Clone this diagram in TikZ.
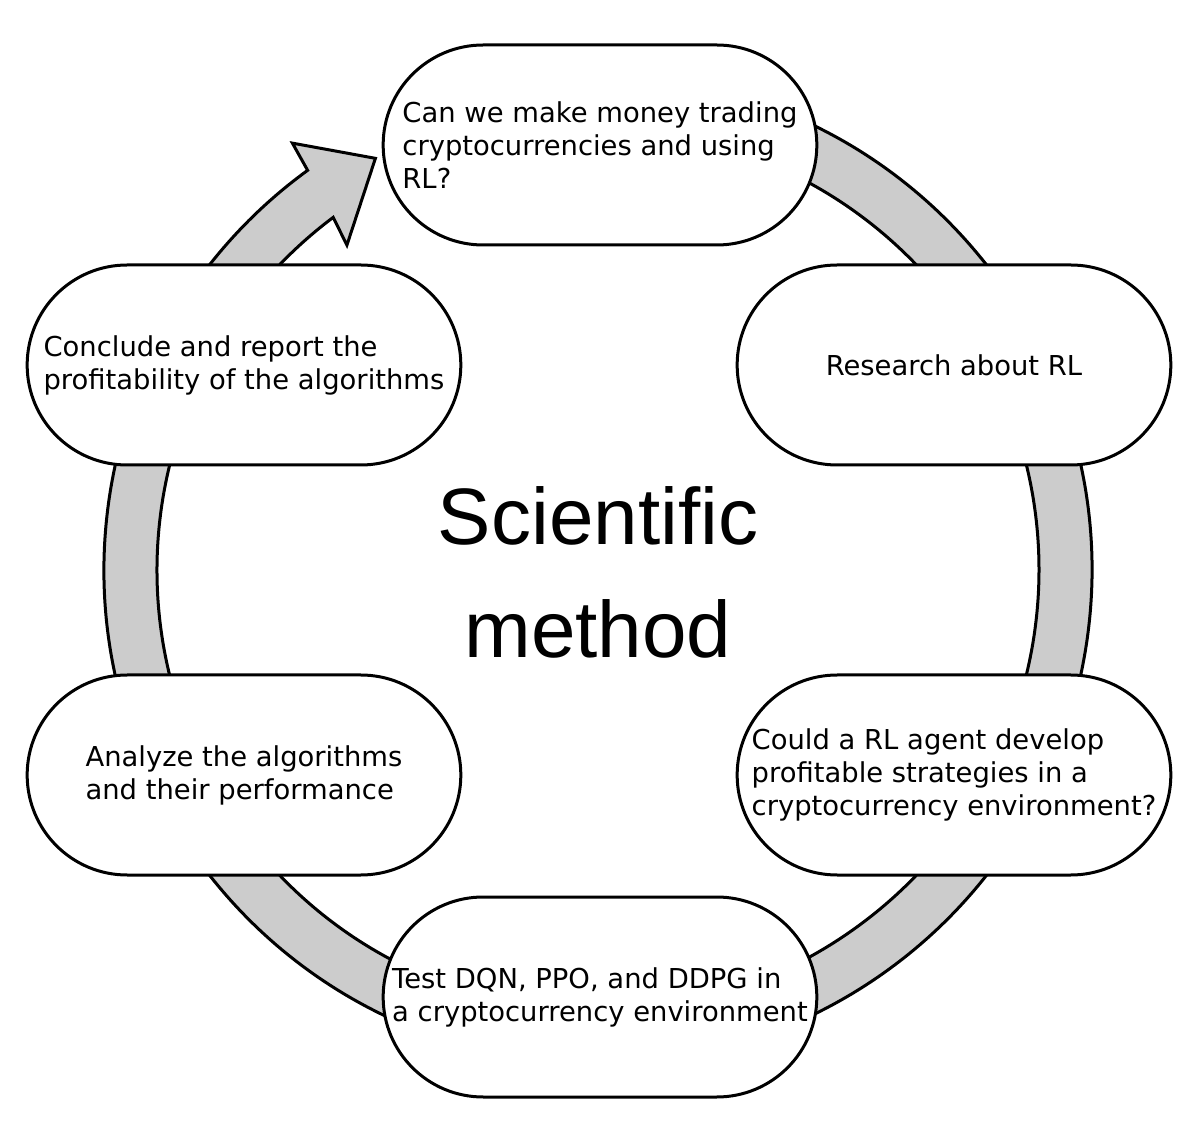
\documentclass[tikz,border=0pt]{standalone}
\usepackage{fontspec}
\usepackage{tikz}
\usetikzlibrary{shapes.misc,positioning}
\newfontfamily\stagefont{DejaVu Sans}
\newfontfamily\titlefont{Liberation Sans}
\definecolor{ringgray}{RGB}{204,204,204}

\begin{document}
\begin{tikzpicture}[
    x=0.5pt, y=0.5pt,
    stage/.style={rounded rectangle, draw=black, line width=1.5pt, fill=white,
        minimum width=223.5pt, minimum height=100pt, align=left,
        font=\stagefont\fontsize{13.7}{16.5}\selectfont},
    ring/.style={draw=black, line width=1.5pt, fill=ringgray, line join=miter}
]
    \useasboundingbox (-598,-570) rectangle (602,570);

    % Cycle arrow
    \draw[ring] (80:494) arc[start angle=80, end angle=-234, radius=494]
        -- (125.6:525) -- (118.4:468) -- (127.7:410.6) -- (126.9:441)
        arc[start angle=-233.1, end angle=80, radius=441] -- cycle;

    % Title
    \node[align=center, font=\titlefont\fontsize{40}{56.5}\selectfont] (title) at (0,-2) {Scientific\\method};

    % Stages of the cycle
    \node[stage] (question) at (2,425) {Can we make money trading\\cryptocurrencies and using\\RL?};
    \node[stage] (research) at (356,205) {Research about RL};
    \node[stage] (hypothesis) at (356,-205) {Could a RL agent develop\\profitable strategies in a\\cryptocurrency environment?};
    \node[stage] (experiment) at (2,-427) {Test DQN, PPO, and DDPG in\\a cryptocurrency environment};
    \node[stage] (analysis) at (-354,-205) {Analyze the algorithms\\and their performance};
    \node[stage] (conclusion) at (-354,205) {Conclude and report the\\profitability of the algorithms};
\end{tikzpicture}
\end{document}
